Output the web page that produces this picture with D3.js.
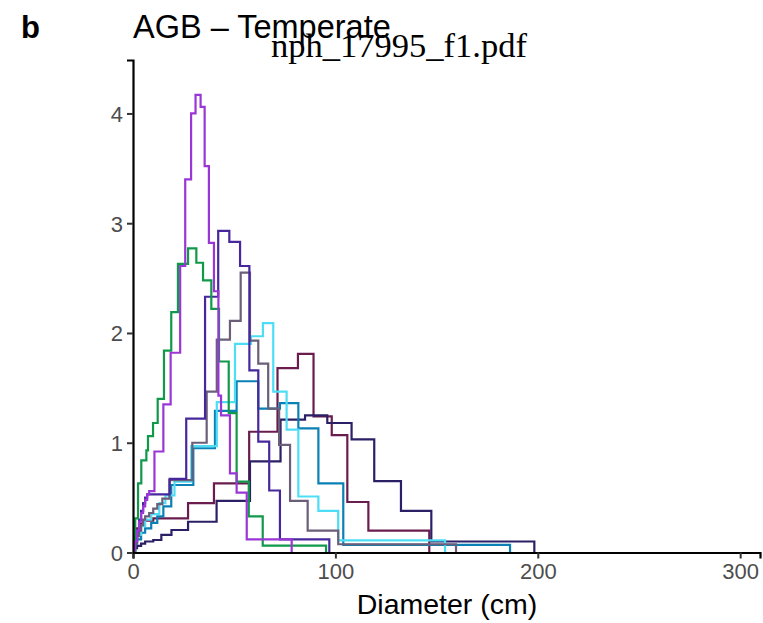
<!DOCTYPE html>
<html><head><meta charset="utf-8">
<script src="https://cdn.jsdelivr.net/npm/d3@7"></script>
<style>body{margin:0;background:#fff}svg{display:block}</style>
</head><body>
<script>
// ---- data: step curves (x = diameter cm at step start, y = value) ----
const xTicks = [0, 100, 200, 300];
const yTicks = [0, 1, 2, 3, 4];

const greenX = [0.8,1.1,2.5,4.1,6.6,7.4,9.9,12.2,15.3,18.9,22.2,27.2,31.3,34.6,38.7,42.5,47.3,51.2,57.2,64.1,95.4];
const greenY = [0.0,0.31,0.63,0.84,0.93,1.06,1.18,1.40,1.84,2.19,2.63,2.77,2.64,2.48,2.22,1.74,1.27,0.645,0.33,0.062,0];

const purpleX = [0,1,2,3,4,5,6,7,8,10.6,15,18.6,23.3,25.8,28.7,30.9,33.4,35.4,37.5,40,42.2,43.5,47.9,51.2,56.2,78.4];
const purpleY = [0.02,0.1,0.2,0.28,0.36,0.42,0.48,0.53,0.56,0.92,1.35,1.82,2.61,3.40,4.00,4.17,4.06,3.52,2.82,2.38,1.43,1.25,0.72,0.545,0.12,0];

const indigoX = [0,1,2,3,4,5,6,7,18.1,26.3,35.6,42.1,47.6,52.9,57.5,61.9,67.3,72.6,97.0];
const indigoY = [0.02,0.1,0.2,0.3,0.38,0.45,0.5,0.53,0.67,1.22,2.33,2.93,2.83,2.61,1.66,1.01,0.565,0.12,0];

const greyX = [0,1,2,3,4,5,6,8,10,12,14.5,18,29.3,36.4,41.4,47.9,53.2,57.8,61.9,66.8,72.2,77.6,86.3,101.4,159.6];
const greyY = [0.01,0.08,0.15,0.2,0.25,0.3,0.33,0.36,0.40,0.44,0.49,0.66,1.0,1.465,1.94,2.11,2.55,1.93,1.72,1.31,0.98,0.47,0.20,0.075,0];

const cyanX = [0,1,2,4,6,9,13,16,20.5,28.8,41.4,50.4,58.3,64.2,69.3,75.9,81.7,91.6,101.4,154.2];
const cyanY = [0.02,0.1,0.16,0.24,0.3,0.35,0.45,0.52,0.645,0.97,1.37,1.90,1.97,2.09,1.465,1.12,0.51,0.38,0.11,0];

const tealX = [0,1,2,4,6,9,12,15,18.9,29.8,40.5,51.2,61.9,72.6,81.7,91.6,103.9,186.3];
const tealY = [0.02,0.08,0.12,0.18,0.22,0.27,0.33,0.42,0.615,0.95,1.29,1.56,1.31,1.36,1.13,0.63,0.07,0];

const maroonX = [0,0.5,1,2,3,5,10,27.2,40,57.4,71.4,81.5,89.2,98.2,105.9,116.3,146.4];
const maroonY = [0.02,0.1,0.15,0.22,0.26,0.29,0.31,0.45,0.63,1.10,1.68,1.81,1.24,1.07,0.46,0.20,0];

const navyX = [0,1,2,4,6,10,14,19,27.2,41.3,57.8,72.9,85,96,108,119.2,132.4,147.4,198.3];
const navyY = [0.01,0.04,0.06,0.08,0.1,0.114,0.16,0.205,0.28,0.47,0.83,1.21,1.25,1.18,1.03,0.65,0.38,0.10,0];

const seriesNames = ["green","purple","indigo","grey","cyan","teal","maroon","navy"];
const seriesColors = ["#11994A","#9A36D6","#47289C","#6B5E78","#4DDDF5","#0A80B5","#6B1C4E","#2B2066"];
const seriesX = [greenX,purpleX,indigoX,greyX,cyanX,tealX,maroonX,navyX];
const seriesY = [greenY,purpleY,indigoY,greyY,cyanY,tealY,maroonY,navyY];

// ---- drawing ----
const W = 763, H = 623;
const svg = d3.select("body").append("svg").attr("width", W).attr("height", H);
const x = d3.scaleLinear().domain([0, 309.8]).range([133, 760]);
const y = d3.scaleLinear().domain([0, 4.487]).range([552.5, 60]);

const line = d3.line().x(d => x(d[0])).y(d => y(d[1])).curve(d3.curveStepAfter);
const order = [6,7,5,4,3,2,0,1];
order.forEach(i => {
  const pts = seriesX[i].map((v, k) => [v, seriesY[i][k]]);
  svg.append("path").attr("d", line(pts)).attr("fill", "none")
    .attr("stroke", seriesColors[i]).attr("stroke-width", 2.2);
});

const xAxis = svg.append("g").attr("transform", "translate(0,552.5)")
  .call(d3.axisBottom(x).tickValues(xTicks).tickFormat(d3.format("d")).tickSize(6).tickPadding(3));
const yAxis = svg.append("g").attr("transform", "translate(133,0)")
  .call(d3.axisLeft(y).tickValues(yTicks).tickFormat(d3.format("d")).tickSize(6).tickPadding(4));
[xAxis, yAxis].forEach(g => {
  g.select(".domain").attr("stroke", "#000").attr("stroke-width", 2.2);
  g.selectAll(".tick line").attr("stroke", "#333").attr("stroke-width", 2);
  g.selectAll(".tick text").attr("fill", "#4D4D4D")
    .style("font-family", "Liberation Sans, Arial, sans-serif").style("font-size", "22px");
});
yAxis.selectAll(".tick text").attr("dy", "0.36em");
xAxis.selectAll(".tick text").attr("dy", "0.78em");

svg.append("text").attr("x", 447).attr("y", 614).attr("text-anchor", "middle")
  .style("font-family", "Liberation Sans, Arial, sans-serif").style("font-size", "28.5px")
  .text("Diameter (cm)");
svg.append("text").attr("x", 21).attr("y", 38)
  .style("font-family", "Liberation Sans, Arial, sans-serif").style("font-size", "31px").style("font-weight", "bold")
  .text("b");
svg.append("text").attr("x", 133).attr("y", 38)
  .style("font-family", "Liberation Sans, Arial, sans-serif").style("font-size", "32.5px")
  .text("AGB – Temperate");
svg.append("text").attr("x", 271).attr("y", 57)
  .style("font-family", "Liberation Serif, Times New Roman, serif").style("font-size", "34px")
  .attr("textLength", 256).attr("lengthAdjust", "spacingAndGlyphs")
  .text("nph_17995_f1.pdf");
</script>
</body></html>
